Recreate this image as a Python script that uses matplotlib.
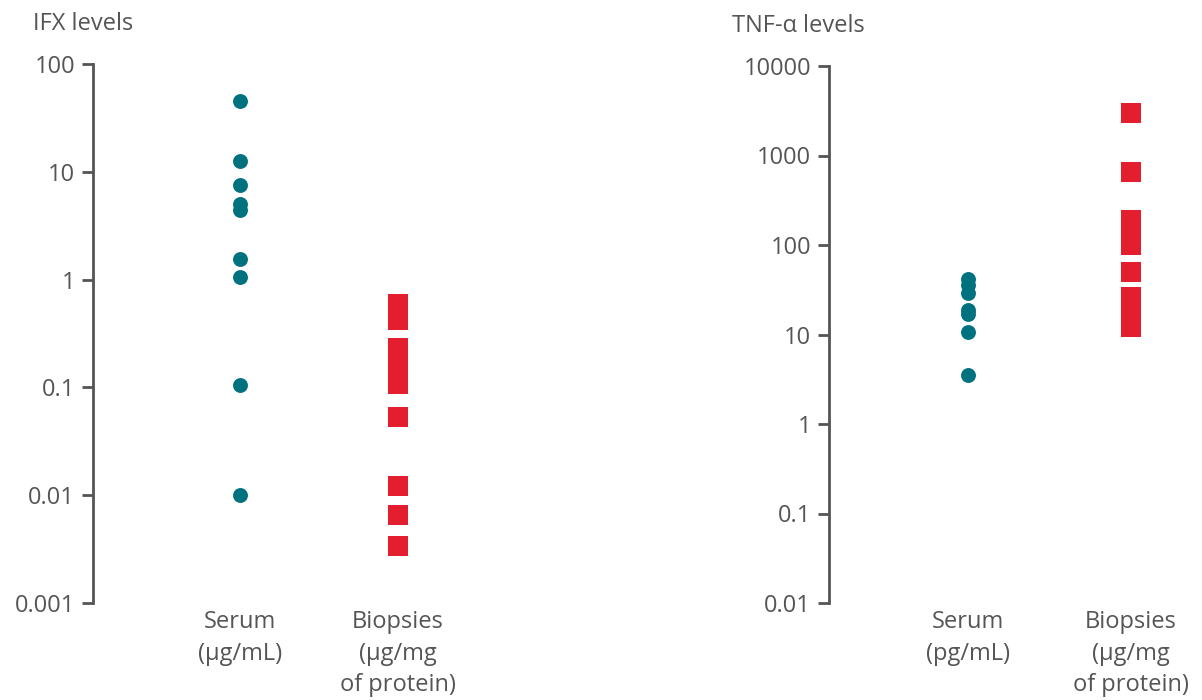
import matplotlib.pyplot as plt
from matplotlib.ticker import FixedLocator, FixedFormatter

plt.rcParams['font.family'] = ['Open Sans', 'DejaVu Sans']

teal = '#00717f'
red = '#e31e2f'
grey = '#555555'

# IFX levels
ifx_serum = [45, 12.5, 7.5, 5.0, 4.4, 1.55, 1.06, 0.105, 0.01]
ifx_biopsies = [0.59, 0.42, 0.23, 0.16, 0.108, 0.053, 0.0123, 0.0065, 0.0034]
ifx_ticks = [100, 10, 1, 0.1, 0.01, 0.001]
ifx_ticklabels = ['100', '10', '1', '0.1', '0.01', '0.001']

# TNF-alpha levels
tnf_serum = [42, 35.5, 29, 19, 17, 10.7, 3.5]
tnf_biopsies = [2950, 650, 188, 136, 99, 50.5, 26.5, 17.8, 12]
tnf_ticks = [10000, 1000, 100, 10, 1, 0.1, 0.01]
tnf_ticklabels = ['10000', '1000', '100', '10', '1', '0.1', '0.01']

fig = plt.figure(figsize=(12.02, 7), dpi=100)
W, H = 1202, 700
fs = 17


def panel(left, right, top, bottom, xmin, xmax, serum, biop, ticks, labels,
          title, title_xy, serum_lab, biop_lab):
    ax = fig.add_axes([left / W, (H - bottom) / H, (right - left) / W, (bottom - top) / H])
    ax.set_yscale('log')
    ax.set_ylim(ticks[-1], ticks[0])
    ax.set_xlim(xmin, xmax)
    ax.scatter([1] * len(serum), serum, s=115, color=teal, marker='o', linewidths=0, zorder=3)
    ax.scatter([2] * len(biop), biop, s=225, color=red, marker='s', linewidths=0, zorder=3)
    for s in ['top', 'right', 'bottom']:
        ax.spines[s].set_visible(False)
    ax.spines['left'].set_color(grey)
    ax.spines['left'].set_linewidth(2)
    ax.yaxis.set_major_locator(FixedLocator(ticks))
    ax.yaxis.set_major_formatter(FixedFormatter(labels))
    ax.yaxis.set_minor_locator(FixedLocator([]))
    ax.tick_params(axis='y', length=8, width=2, color=grey, labelcolor=grey,
                   labelsize=fs, pad=5)
    ax.set_xticks([])
    fig.text(title_xy[0] / W, 1 - title_xy[1] / H, title, fontsize=fs, color=grey,
             ha='left', va='center')
    for x, lines in [(1, serum_lab), (2, biop_lab)]:
        for i, t in enumerate(lines):
            ax.annotate(t, xy=(x, 0), xycoords=('data', 'axes fraction'),
                        xytext=(0, -14 - i * 22.5), textcoords='offset points',
                        ha='center', va='center', fontsize=fs, color=grey)
    return ax


panel(93, 480, 64, 603, 0.0696, 2.519, ifx_serum, ifx_biopsies, ifx_ticks,
      ifx_ticklabels, 'IFX levels', (33, 24),
      ['Serum', '(\u03bcg/mL)'], ['Biopsies', '(\u03bcg/mg', 'of protein)'])
panel(829, 1190, 66, 603, 0.147, 2.362, tnf_serum, tnf_biopsies, tnf_ticks,
      tnf_ticklabels, 'TNF-\u03b1 levels', (732, 26),
      ['Serum', '(pg/mL)'], ['Biopsies', '(\u03bcg/mg', 'of protein)'])

fig.savefig('out.png', dpi=100)
